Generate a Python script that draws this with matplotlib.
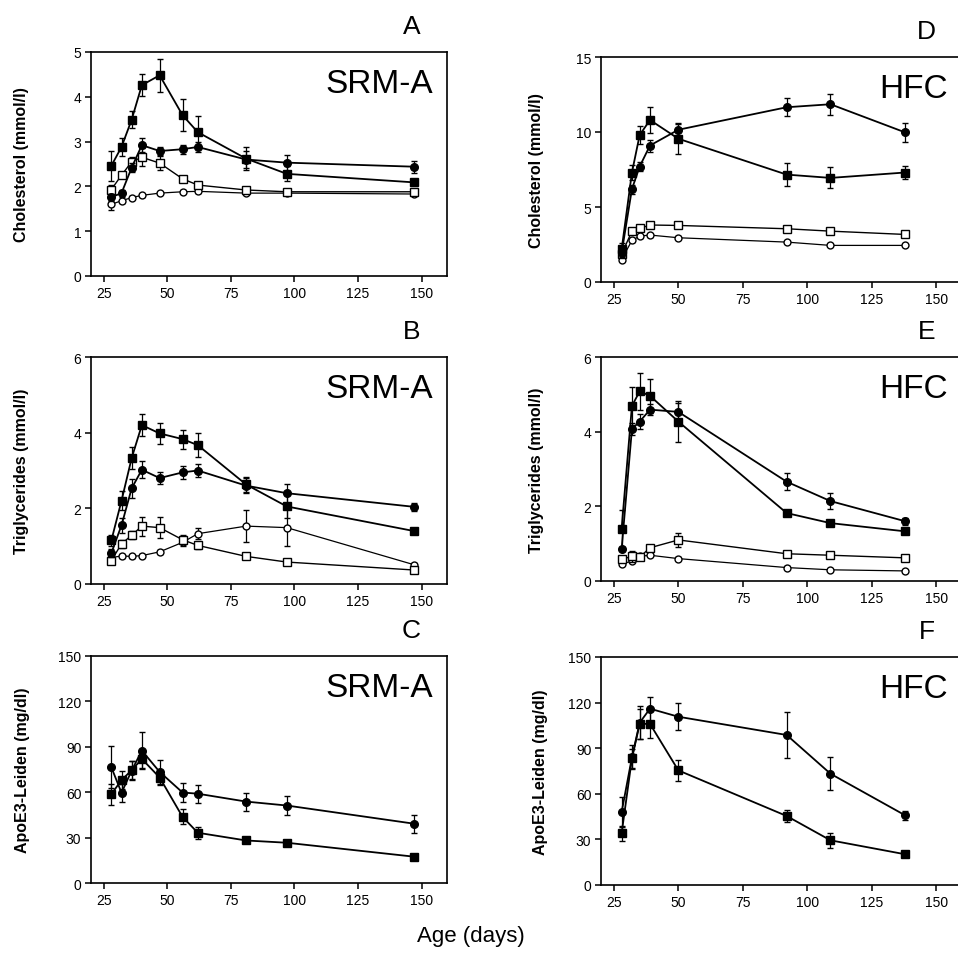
import matplotlib
matplotlib.use('Agg')
import matplotlib.pyplot as plt

plt.rcParams['font.family'] = ['Liberation Sans', 'DejaVu Sans']

# ages (days) at which plasma was sampled
age_srm = [28, 32, 36, 40, 47, 56, 62, 81, 97, 147]
age_hfc = [28, 32, 35, 39, 50, 92, 109, 138]

# A: cholesterol, SRM-A diet
chol_srm_sq = [2.46, 2.88, 3.49, 4.26, 4.48, 3.59, 3.21, 2.62, 2.28, 2.09]
chol_srm_sq_err = [0.33, 0.2, 0.19, 0.24, 0.37, 0.35, 0.36, 0.25, 0.17, 0.05]
chol_srm_ci = [1.76, 1.85, 2.42, 2.92, 2.79, 2.83, 2.88, 2.6, 2.53, 2.44]
chol_srm_ci_err = [0.08, 0.08, 0.1, 0.15, 0.08, 0.1, 0.12, 0.2, 0.18, 0.13]
chol_srm_osq = [1.93, 2.25, 2.55, 2.65, 2.52, 2.17, 2.03, 1.92, 1.88, 1.88]
chol_srm_osq_err = [0.1, 0.05, 0.1, 0.2, 0.15, 0.05, 0.05, 0.04, 0.03, 0.03]
chol_srm_oci = [1.6, 1.68, 1.75, 1.8, 1.85, 1.88, 1.89, 1.85, 1.85, 1.83]
chol_srm_oci_err = [0.12, 0.04, 0.03, 0.03, 0.03, 0.03, 0.03, 0.03, 0.03, 0.03]

# B: triglycerides, SRM-A diet
tg_srm_sq = [1.15, 2.2, 3.33, 4.2, 3.98, 3.83, 3.67, 2.63, 2.05, 1.4]
tg_srm_sq_err = [0.15, 0.25, 0.28, 0.3, 0.28, 0.25, 0.32, 0.2, 0.3, 0.05]
tg_srm_ci = [0.82, 1.55, 2.53, 3.02, 2.8, 2.95, 3.0, 2.6, 2.4, 2.04]
tg_srm_ci_err = [0.1, 0.2, 0.25, 0.22, 0.15, 0.18, 0.18, 0.2, 0.25, 0.1]
tg_srm_osq = [0.62, 1.06, 1.29, 1.53, 1.49, 1.17, 1.02, 0.73, 0.58, 0.37]
tg_srm_osq_err = [0.05, 0.1, 0.1, 0.25, 0.28, 0.12, 0.1, 0.04, 0.04, 0.03]
tg_srm_oci = [0.7, 0.74, 0.73, 0.75, 0.85, 1.1, 1.33, 1.53, 1.49, 0.51]
tg_srm_oci_err = [0.1, 0.04, 0.04, 0.04, 0.05, 0.1, 0.15, 0.42, 0.48, 0.04]

# C: ApoE3-Leiden, SRM-A diet
apo_srm_sq = [58.7, 68, 74.5, 82, 69.7, 43.7, 33.2, 28.1, 26.6, 17.4]
apo_srm_sq_err = [7, 6, 6, 6, 5, 5, 4, 1, 1, 1]
apo_srm_ci = [76.5, 59.6, 74.3, 87.5, 73.4, 59.8, 59, 53.8, 51.2, 39.2]
apo_srm_ci_err = [14, 6, 6, 12, 8, 6, 6, 6, 6, 6]

# D: cholesterol, HFC diet
chol_hfc_sq = [2.17, 7.3, 9.8, 10.8, 9.55, 7.16, 6.94, 7.3]
chol_hfc_sq_err = [0.4, 0.5, 0.6, 0.85, 1.0, 0.75, 0.7, 0.45]
chol_hfc_ci = [1.95, 6.2, 7.7, 9.1, 10.15, 11.65, 11.85, 9.97]
chol_hfc_ci_err = [0.3, 0.3, 0.3, 0.4, 0.45, 0.6, 0.7, 0.65]
chol_hfc_osq = [1.85, 3.4, 3.57, 3.8, 3.77, 3.55, 3.39, 3.17]
chol_hfc_osq_err = [0.2, 0.1, 0.1, 0.1, 0.1, 0.1, 0.1, 0.2]
chol_hfc_oci = [1.5, 2.77, 3.06, 3.13, 2.95, 2.66, 2.44, 2.44]
chol_hfc_oci_err = [0.1, 0.1, 0.1, 0.1, 0.1, 0.05, 0.05, 0.05]

# E: triglycerides, HFC diet
tg_hfc_sq = [1.4, 4.69, 5.08, 4.96, 4.27, 1.82, 1.55, 1.33]
tg_hfc_sq_err = [0.5, 0.5, 0.5, 0.45, 0.55, 0.05, 0.05, 0.05]
tg_hfc_ci = [0.86, 4.07, 4.27, 4.59, 4.53, 2.66, 2.14, 1.6]
tg_hfc_ci_err = [0.05, 0.15, 0.2, 0.15, 0.25, 0.22, 0.22, 0.1]
tg_hfc_osq = [0.58, 0.66, 0.64, 0.89, 1.1, 0.73, 0.69, 0.62]
tg_hfc_osq_err = [0.05, 0.15, 0.05, 0.05, 0.18, 0.04, 0.04, 0.04]
tg_hfc_oci = [0.46, 0.53, 0.66, 0.69, 0.6, 0.36, 0.3, 0.27]
tg_hfc_oci_err = [0.03, 0.03, 0.03, 0.03, 0.03, 0.03, 0.03, 0.03]

# F: ApoE3-Leiden, HFC diet
apo_hfc_sq = [34, 83.3, 106, 106, 75.4, 45.4, 29.4, 20.2]
apo_hfc_sq_err = [5, 6, 10, 9, 7, 4, 5, 1]
apo_hfc_ci = [48, 84, 106.8, 116, 110.7, 98.7, 73.2, 45.8]
apo_hfc_ci_err = [10, 8, 11, 8, 9, 15, 11, 3]

W, H = 958, 954
fig = plt.figure(figsize=(W / 100, H / 100), dpi=100)


def px_axes(left, top, right, bottom):
    return fig.add_axes([left / W, 1 - bottom / H, (right - left) / W, (bottom - top) / H])


styles = {
    'sq': dict(marker='s', ms=6, mfc='black', lw=1.3, z=4),
    'ci': dict(marker='o', ms=5.5, mfc='black', lw=1.3, z=5),
    'osq': dict(marker='s', ms=5.5, mfc='white', lw=1.0, z=3),
    'oci': dict(marker='o', ms=5, mfc='white', lw=0.9, z=2),
}


def draw(ax, ages, series, ylim, yticks, diet, letter, ylabel, lab_x, lab_top, lab_bot):
    for kind, vals, errs in series:
        s = styles[kind]
        ax.errorbar(ages, vals, yerr=errs, color='black', marker=s['marker'], ms=s['ms'],
                    mfc=s['mfc'], mec='black', mew=1.0, lw=s['lw'], elinewidth=0.9,
                    capsize=2.5, capthick=0.9, zorder=s['z'])
    ax.set_xlim(20, 160)
    ax.set_ylim(*ylim)
    ax.set_xticks([25, 50, 75, 100, 125, 150])
    ax.set_yticks(yticks)
    ax.tick_params(direction='out', length=4, width=1.1, labelsize=10, pad=3,
                   top=False, right=False)
    for sp in ax.spines.values():
        sp.set_linewidth(1.2)
    ax.text(0.96, 0.86, diet, transform=ax.transAxes, ha='right', va='center',
            fontsize=24)
    bb = ax.get_position()
    fig.text(bb.x1 - 0.037, bb.y1 + 26 / H, letter, ha='center', va='center', fontsize=19)
    fig.text(lab_x / W, 1 - (lab_top + lab_bot) / 2 / H, ylabel, rotation=90,
             ha='center', va='center', fontsize=11.5, fontweight='bold')


axA = px_axes(91, 53, 447, 277)
draw(axA, age_srm, [('oci', chol_srm_oci, chol_srm_oci_err), ('osq', chol_srm_osq, chol_srm_osq_err),
                    ('ci', chol_srm_ci, chol_srm_ci_err), ('sq', chol_srm_sq, chol_srm_sq_err)],
     (0, 5), [0, 1, 2, 3, 4, 5], 'SRM-A', 'A', 'Cholesterol (mmol/l)', 22, 53, 277)

axB = px_axes(91, 358, 447, 585)
draw(axB, age_srm, [('oci', tg_srm_oci, tg_srm_oci_err), ('osq', tg_srm_osq, tg_srm_osq_err),
                    ('ci', tg_srm_ci, tg_srm_ci_err), ('sq', tg_srm_sq, tg_srm_sq_err)],
     (0, 6), [0, 2, 4, 6], 'SRM-A', 'B', 'Triglycerides (mmol/l)', 22, 358, 585)

axC = px_axes(91, 657, 447, 884)
draw(axC, age_srm, [('ci', apo_srm_ci, apo_srm_ci_err), ('sq', apo_srm_sq, apo_srm_sq_err)],
     (0, 150), [0, 30, 60, 90, 120, 150], 'SRM-A', 'C', 'ApoE3-Leiden (mg/dl)', 23, 657, 884)

axD = px_axes(601, 58, 962, 283)
draw(axD, age_hfc, [('oci', chol_hfc_oci, chol_hfc_oci_err), ('osq', chol_hfc_osq, chol_hfc_osq_err),
                    ('ci', chol_hfc_ci, chol_hfc_ci_err), ('sq', chol_hfc_sq, chol_hfc_sq_err)],
     (0, 15), [0, 5, 10, 15], 'HFC', 'D', 'Cholesterol (mmol/l)', 537, 58, 283)

axE = px_axes(601, 358, 962, 582)
draw(axE, age_hfc, [('oci', tg_hfc_oci, tg_hfc_oci_err), ('osq', tg_hfc_osq, tg_hfc_osq_err),
                    ('ci', tg_hfc_ci, tg_hfc_ci_err), ('sq', tg_hfc_sq, tg_hfc_sq_err)],
     (0, 6), [0, 2, 4, 6], 'HFC', 'E', 'Triglycerides (mmol/l)', 537, 358, 582)

axF = px_axes(601, 658, 962, 886)
draw(axF, age_hfc, [('ci', apo_hfc_ci, apo_hfc_ci_err), ('sq', apo_hfc_sq, apo_hfc_sq_err)],
     (0, 150), [0, 30, 60, 90, 120, 150], 'HFC', 'F', 'ApoE3-Leiden (mg/dl)', 540, 658, 886)

fig.text(471 / W, 1 - 937 / H, 'Age (days)', ha='center', va='center', fontsize=16)

fig.savefig('out.png', dpi=100)
